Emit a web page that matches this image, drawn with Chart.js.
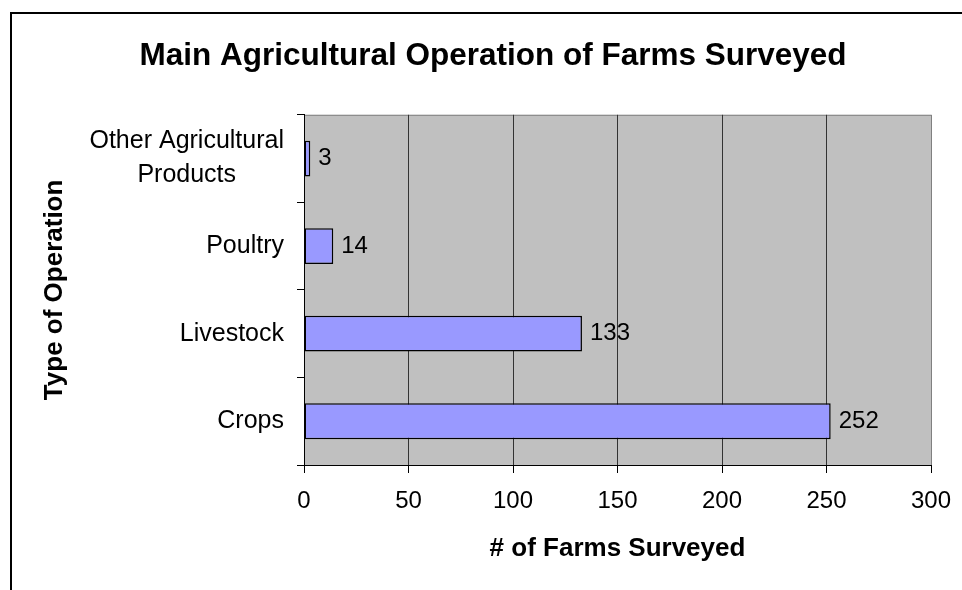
<!DOCTYPE html>
<html>
<head>
<meta charset="utf-8">
<script src="https://cdn.jsdelivr.net/npm/chart.js@4.4.1/dist/chart.umd.min.js"></script>
<style>
  body { margin: 0; overflow: hidden; background: #fff; }
  #frame { position: absolute; left: 10px; top: 12px; width: 1200px; height: 1200px; border: 2px solid #000; }
  #wrap { position: absolute; left: 0; top: 0; width: 986px; height: 590px; }
</style>
</head>
<body>
<div id="frame"></div>
<div id="wrap"><canvas id="chart"></canvas></div>
<script>
// Данные диаграммы
const categories = [["Other Agricultural", "Products"], ["Poultry"], ["Livestock"], ["Crops"]];
const farmCounts = [3, 14, 133, 252];
const xTicks = [0, 50, 100, 150, 200, 250, 300];

const FONT = '"Liberation Sans", Arial, sans-serif';

// Серый фон области построения и верхняя рамка
const plotBackground = {
  id: "plotBackground",
  beforeDraw(chart) {
    const { ctx, chartArea: a } = chart;
    ctx.save();
    ctx.fillStyle = "#C0C0C0";
    ctx.fillRect(a.left, a.top, a.right - a.left, a.bottom - a.top);
    ctx.strokeStyle = "#808080";
    ctx.lineWidth = 1;
    ctx.beginPath();
    ctx.moveTo(a.left, a.top + 0.5);
    ctx.lineTo(a.right, a.top + 0.5);
    ctx.stroke();
    ctx.restore();
  },
};

// Подписи категорий: блок выровнен вправо, строки внутри по центру
const categoryLabels = {
  id: "categoryLabels",
  afterDraw(chart) {
    const { ctx } = chart;
    const y = chart.scales.y;
    const right = y.right - 7 - 13;
    ctx.save();
    ctx.font = "25px " + FONT;
    ctx.fillStyle = "#000";
    ctx.textAlign = "center";
    ctx.textBaseline = "middle";
    categories.forEach((lines, i) => {
      const w = Math.max(...lines.map((l) => ctx.measureText(l).width));
      const cy = y.getPixelForTick(i);
      lines.forEach((line, j) => {
        ctx.fillText(line, right - w / 2, cy + (j - (lines.length - 1) / 2) * 34);
      });
    });
    ctx.restore();
  },
};

// Значения справа от столбцов
const valueLabels = {
  id: "valueLabels",
  afterDatasetsDraw(chart) {
    const { ctx } = chart;
    const meta = chart.getDatasetMeta(0);
    ctx.save();
    ctx.font = "24px " + FONT;
    ctx.fillStyle = "#000";
    ctx.textAlign = "left";
    ctx.textBaseline = "middle";
    meta.data.forEach((bar, i) => {
      ctx.fillText(String(farmCounts[i]), bar.x + 8, bar.y);
    });
    ctx.restore();
  },
};

new Chart(document.getElementById("chart"), {
  type: "bar",
  data: {
    labels: categories,
    datasets: [
      {
        data: farmCounts,
        backgroundColor: "#9999FF",
        borderColor: "#000",
        borderWidth: 1.5,
        borderSkipped: false,
        categoryPercentage: 1,
        barPercentage: 0.41,
      },
    ],
  },
  options: {
    indexAxis: "y",
    responsive: true,
    maintainAspectRatio: false,
    animation: false,
    devicePixelRatio: 1,
    layout: { padding: { left: 55, right: 55, top: 0, bottom: 0 } },
    plugins: {
      legend: { display: false },
      tooltip: { enabled: false },
      title: {
        display: true,
        text: "Main Agricultural Operation of Farms Surveyed",
        color: "#000",
        font: { family: FONT, size: 31.5, weight: "bold" },
        padding: { top: 37, bottom: 40 },
      },
    },
    scales: {
      x: {
        min: 0,
        max: 300,
        afterBuildTicks(scale) {
          scale.ticks = xTicks.map((v) => ({ value: v }));
        },
        afterFit(scale) {
          scale.height = 125;
        },
        grid: {
          color: (c) => (c.tick && c.tick.value === 300 ? "#808080" : "#333"),
          tickColor: "#000",
          tickLength: 8,
          lineWidth: 1,
        },
        border: { display: true, color: "#000", width: 1 },
        ticks: {
          color: "#000",
          padding: 14,
          font: { family: FONT, size: 24 },
        },
        title: {
          display: true,
          text: "# of Farms Surveyed",
          color: "#000",
          font: { family: FONT, size: 26, weight: "bold" },
          padding: { top: 0, bottom: 26 },
        },
      },
      y: {
        afterFit(scale) {
          scale.width = 249;
        },
        grid: {
          drawOnChartArea: false,
          drawTicks: true,
          tickLength: 7,
          tickColor: "#000",
          offset: true,
        },
        border: { display: true, color: "#000", width: 1 },
        ticks: {
          color: "rgba(0,0,0,0)",
          padding: 13,
          font: { family: FONT, size: 24 },
        },
        title: {
          display: true,
          text: "Type of Operation",
          color: "#000",
          font: { family: FONT, size: 26, weight: "bold" },
          padding: { top: -16, bottom: 0 },
        },
      },
    },
  },
  plugins: [plotBackground, valueLabels, categoryLabels],
});
</script>
</body>
</html>
